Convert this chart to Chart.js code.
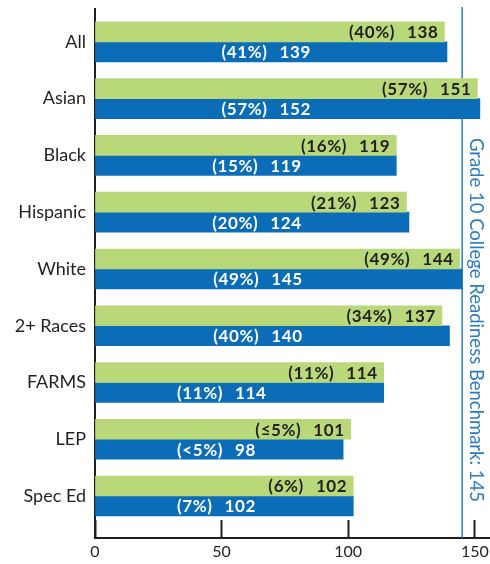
<!DOCTYPE html>
<html>
<head>
<meta charset="utf-8">
<script src="https://cdn.jsdelivr.net/npm/chart.js@4"></script>
<style>
  html, body { margin: 0; padding: 0; background: #fff; }
  #wrap { width: 490px; height: 564px; }
</style>
</head>
<body>
<div id="wrap"><canvas id="chart" width="490" height="564"></canvas></div>
<script>
// ===== DATA =====
const categories = ['All', 'Asian', 'Black', 'Hispanic', 'White', '2+ Races', 'FARMS', 'LEP', 'Spec Ed'];
const greenValues = [138, 151, 119, 123, 144, 137, 114, 101, 102];
const greenPct = ['40%', '57%', '16%', '21%', '49%', '34%', '11%', '≤5%', '6%'];
const blueValues = [139, 152, 119, 124, 145, 140, 114, 98, 102];
const bluePct = ['41%', '57%', '15%', '20%', '49%', '40%', '11%', '<5%', '7%'];
const xTicks = [0, 50, 100, 150];
const benchmark = 145;
const benchmarkLabel = 'Grade 10 College Readiness Benchmark: 145';

// ===== STYLE =====
const INK = '#231f20';
const GREEN = '#b8d87a';
const BLUE = '#0b6db8';
const BENCH = '#2a7cc2';
const FONT = 'Lato';
// where the white labels start inside the blue bars (axis units)
const blueLabelAt = [50, 50, 46.3, 46.3, 46.7, 46.7, 32.4, 32.4, 32.4];

const toPts = vals => vals.map((v, i) => ({ x: v, y: i }));

// bar labels: "(pct)  value"
const barLabels = {
    id: 'barLabels',
    afterDatasetsDraw(chart) {
        const g = chart.ctx;
        const xs = chart.scales.x;
        g.save();
        g.font = `bold 17px ${FONT}`;
        g.letterSpacing = '0.6px';
        g.textBaseline = 'middle';

        chart.getDatasetMeta(0).data.forEach((bar, i) => {
            const val = String(greenValues[i]);
            const y = bar.y + 1;
            const vx = bar.x - 6;
            g.fillStyle = INK;
            g.textAlign = 'right';
            g.fillText(val, vx, y);
            g.fillText(`(${greenPct[i]})`, vx - g.measureText(val).width - 12, y);
        });

        chart.getDatasetMeta(1).data.forEach((bar, i) => {
            const y = bar.y + 1;
            const sx = xs.getPixelForValue(blueLabelAt[i]);
            const pct = `(${bluePct[i]})`;
            g.fillStyle = '#fff';
            g.textAlign = 'left';
            g.fillText(pct, sx, y);
            g.fillText(String(blueValues[i]), sx + g.measureText(pct).width + 12, y);
        });
        g.restore();
    }
};

// benchmark line (behind the bars) + rotated caption
const benchLine = {
    id: 'benchLine',
    beforeDatasetsDraw(chart) {
        const g = chart.ctx;
        const a = chart.chartArea;
        const x = chart.scales.x.getPixelForValue(benchmark);
        g.save();
        g.strokeStyle = BENCH;
        g.lineWidth = 1.5;
        g.beginPath();
        g.moveTo(x, a.top - 2);
        g.lineTo(x, a.bottom);
        g.stroke();
        g.restore();
    },
    afterDatasetsDraw(chart) {
        const g = chart.ctx;
        const x = chart.scales.x.getPixelForValue(benchmark);
        g.save();
        g.translate(x + 14, 320);
        g.rotate(Math.PI / 2);
        g.font = `18.5px ${FONT}`;
        g.fillStyle = BENCH;
        g.textAlign = 'center';
        g.textBaseline = 'middle';
        g.fillText(benchmarkLabel, 0, 0);
        g.restore();
    }
};

new Chart(document.getElementById('chart'), {
    type: 'bar',
    data: {
        datasets: [
            { data: toPts(greenValues), backgroundColor: GREEN, barThickness: 20, borderWidth: 0 },
            { data: toPts(blueValues), backgroundColor: BLUE, barThickness: 20, borderWidth: 0 }
        ]
    },
    options: {
        indexAxis: 'y',
        responsive: false,
        animation: false,
        layout: { padding: { top: 9, right: 0, left: 0, bottom: 0 } },
        plugins: { legend: { display: false }, tooltip: { enabled: false } },
        scales: {
            x: {
                type: 'linear', min: 0, max: 156,
                afterBuildTicks: s => { s.ticks = xTicks.map(v => ({ value: v })); },
                afterFit: s => { s.height = 26; s.paddingLeft = 0; s.paddingRight = 0; },
                border: { color: INK, width: 2 },
                grid: { drawOnChartArea: false, tickLength: -18, tickWidth: 2, tickColor: INK },
                ticks: { padding: 22, color: INK, font: { family: FONT, size: 16 } }
            },
            y: {
                type: 'linear', reverse: true, min: -0.58, max: 8.74, offset: false,
                afterBuildTicks: s => { s.ticks = categories.map((c, i) => ({ value: i })); },
                afterFit: s => { s.width = 95; s.paddingTop = 0; s.paddingBottom = 0; },
                border: { color: INK, width: 2 },
                grid: { drawOnChartArea: false, drawTicks: false, offset: false },
                ticks: { padding: 9, color: INK, font: { family: FONT, size: 18 }, callback: v => categories[v] }
            }
        }
    },
    plugins: [barLabels, benchLine]
});
</script>
</body>
</html>
